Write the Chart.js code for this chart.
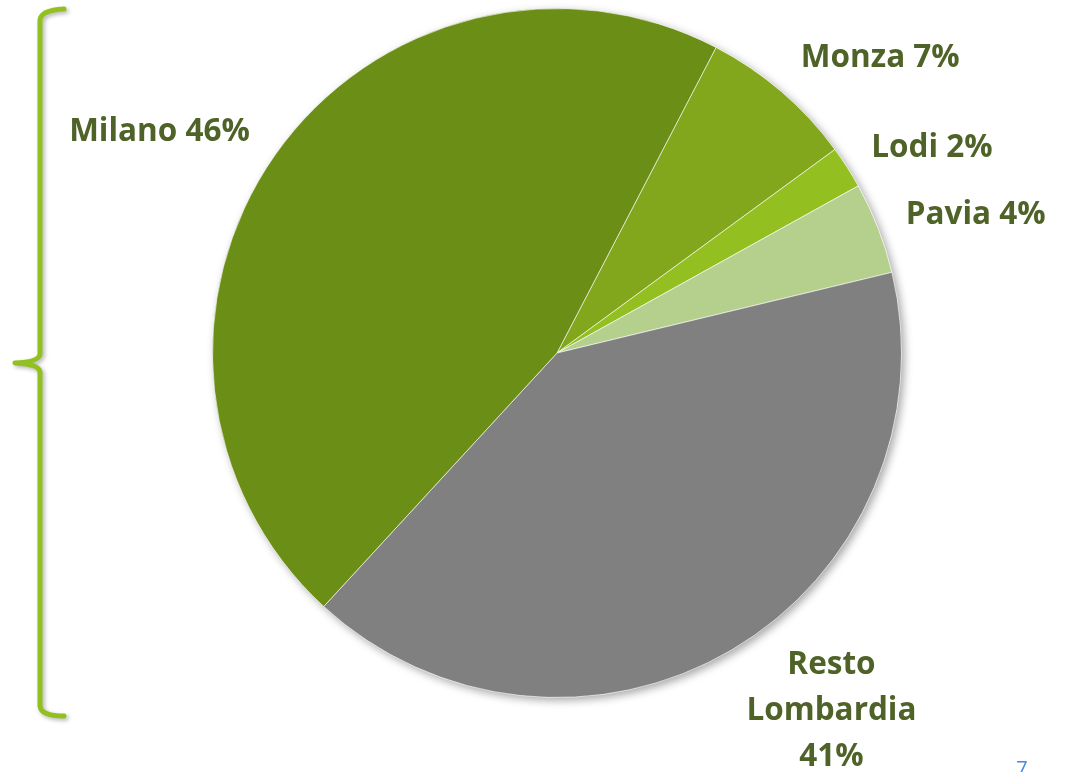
<!DOCTYPE html>
<html>
<head>
<meta charset="utf-8">
<script src="https://cdn.jsdelivr.net/npm/chart.js@4/dist/chart.umd.min.js"></script>
<style>
  html, body { margin: 0; padding: 0; background: #fff; }
  #wrap { position: relative; width: 1074px; height: 772px; }
</style>
</head>
<body>
<div id="wrap"><canvas id="torta"></canvas></div>
<script>
// dati della torta (ordine orario partendo da Monza)
const categorie = ['Monza', 'Lodi', 'Pavia', 'Resto Lombardia', 'Milano'];
const valori = [7.3, 2.0, 4.3, 40.6, 45.8];
const etichette = [['Monza 7%'], ['Lodi 2%'], ['Pavia 4%'], ['Resto', 'Lombardia', '41%'], ['Milano 46%']];
const colori = ['#82a61c', '#93bf20', '#b5d08d', '#808080', '#6b8e17'];

// posizione etichette: distanza in raggi e piccolo scarto d'angolo (gradi)
const distEtichetta = [1.27, 1.24, 1.28, 1.31, 1.32];
const scartoAngolo = [7, 4, 3, -7, -6];

const ombraTorta = {
  id: 'ombraTorta',
  beforeDatasetsDraw(chart) {
    const arc = chart.getDatasetMeta(0).data[0];
    if (!arc) return;
    const ctx = chart.ctx;
    ctx.save();
    ctx.shadowColor = 'rgba(0,0,0,0.35)';
    ctx.shadowBlur = 8;
    ctx.shadowOffsetX = 3;
    ctx.shadowOffsetY = 3;
    ctx.fillStyle = '#fff';
    ctx.beginPath();
    ctx.arc(arc.x, arc.y, arc.outerRadius, 0, Math.PI * 2);
    ctx.fill();
    ctx.restore();
  }
};

const etichettePlugin = {
  id: 'etichettePlugin',
  afterDatasetsDraw(chart) {
    const ctx = chart.ctx;
    const meta = chart.getDatasetMeta(0);
    ctx.save();
    ctx.font = 'bold 31.5px "Open Sans", Lato, sans-serif';
    ctx.fillStyle = '#4f6228';
    ctx.textAlign = 'center';
    ctx.textBaseline = 'middle';
    meta.data.forEach((arc, i) => {
      const mid = (arc.startAngle + arc.endAngle) / 2 + scartoAngolo[i] * Math.PI / 180;
      const r = arc.outerRadius * distEtichetta[i];
      const x = arc.x + Math.cos(mid) * r;
      const y = arc.y + Math.sin(mid) * r;
      const righe = etichette[i];
      const h = 46;
      righe.forEach((t, k) => {
        ctx.fillText(t, x, y + (k - (righe.length - 1) / 2) * h);
      });
    });
    ctx.restore();
  }
};

const graffaPlugin = {
  id: 'graffaPlugin',
  afterDraw(chart) {
    const ctx = chart.ctx;
    ctx.save();
    ctx.shadowColor = 'rgba(0,0,0,0.3)';
    ctx.shadowBlur = 4;
    ctx.shadowOffsetX = 2;
    ctx.shadowOffsetY = 2;
    ctx.strokeStyle = '#92c01f';
    ctx.lineWidth = 5;
    ctx.lineCap = 'round';
    ctx.lineJoin = 'round';
    ctx.beginPath();
    ctx.moveTo(64, 9);
    ctx.quadraticCurveTo(41, 10, 40, 20);
    ctx.lineTo(40, 354);
    ctx.quadraticCurveTo(39, 362, 15, 363);
    ctx.quadraticCurveTo(39, 364, 40, 372);
    ctx.lineTo(40, 706);
    ctx.quadraticCurveTo(41, 716, 64, 716);
    ctx.stroke();
    ctx.restore();

    ctx.save();
    ctx.font = '20px "Open Sans", sans-serif';
    ctx.fillStyle = '#4a86e8';
    ctx.textAlign = 'center';
    ctx.textBaseline = 'alphabetic';
    ctx.fillText('7', 1022, 775);
    ctx.restore();
  }
};

const canvas = document.getElementById('torta');
canvas.width = 1074;
canvas.height = 772;

new Chart(canvas.getContext('2d'), {
  type: 'pie',
  data: {
    labels: categorie,
    datasets: [{
      data: valori,
      backgroundColor: colori,
      borderColor: 'rgba(255,255,255,0.6)',
      borderWidth: 1
    }]
  },
  options: {
    responsive: false,
    animation: false,
    rotation: 27.5,
    layout: { padding: { left: 212, right: 172, top: 8, bottom: 74 } },
    plugins: {
      legend: { display: false },
      tooltip: { enabled: false }
    }
  },
  plugins: [ombraTorta, etichettePlugin, graffaPlugin]
});
</script>
</body>
</html>
